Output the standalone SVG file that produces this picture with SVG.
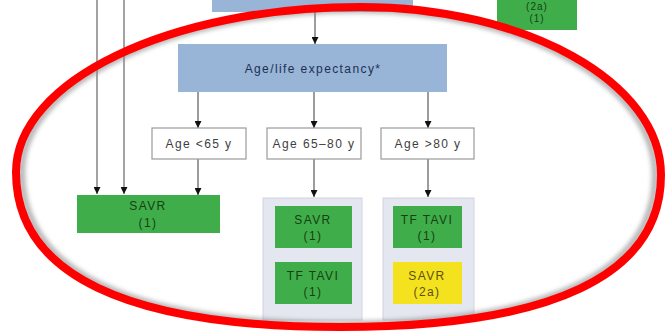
<svg xmlns="http://www.w3.org/2000/svg" width="666" height="331" viewBox="0 0 666 331">
  <defs>
    <style>
      .t { font-family: "Liberation Sans", Arial, sans-serif; font-size: 12px; letter-spacing: 1.4px; text-anchor: middle; }
      .blue { fill: #98b4d6; }
      .bluetxt { fill: #1c3152; }
      .age { fill: #ffffff; stroke: #9a9a9a; stroke-width: 1.2; }
      .agetxt { fill: #3e3e3e; }
      .green { fill: #3fae4a; }
      .greentxt { fill: #173f12; }
      .yellow { fill: #f4e21e; }
      .yellowtxt { fill: #5e4f10; }
      .panel { fill: #e4e7ef; stroke: #d0d4de; stroke-width: 1; }
      .arrow { stroke: #3a3a3a; stroke-width: 1; fill: none; marker-end: url(#head); }
      .feed { stroke: #8c8c8c; stroke-width: 1.6; fill: none; marker-end: url(#head); }
    </style>
    <marker id="head" viewBox="0 0 10 10" refX="10" refY="5" markerUnits="userSpaceOnUse" markerWidth="7" markerHeight="7" orient="auto">
      <path d="M0,0 L10,5 L0,10 z" fill="#111"/>
    </marker>
    <filter id="soft" x="-10%" y="-10%" width="120%" height="120%">
      <feGaussianBlur stdDeviation="2.2"/>
    </filter>
  </defs>

  <rect width="666" height="331" fill="#ffffff"/>

  <!-- connectors -->
  <g id="connectors">
    <line class="feed" x1="97" y1="0" x2="97" y2="194"/>
    <line class="feed" x1="124" y1="0" x2="124" y2="194"/>
    <line class="arrow" x1="315" y1="12" x2="315" y2="44"/>
    <line class="arrow" x1="198" y1="92" x2="198" y2="128"/>
    <line class="arrow" x1="314" y1="92" x2="314" y2="128"/>
    <line class="arrow" x1="428" y1="92" x2="428" y2="128"/>
    <line class="arrow" x1="198" y1="159" x2="198" y2="195"/>
    <line class="arrow" x1="314" y1="159" x2="314" y2="197"/>
    <line class="arrow" x1="428" y1="159" x2="428" y2="197"/>
  </g>

  <g id="top-decision">
    <rect class="blue" x="212" y="-4" width="201" height="16"/>
  </g>

  <g id="top-right-option">
    <rect class="green" x="497" y="-6" width="80" height="36"/>
    <text class="t greentxt" x="537" y="10" style="font-size:10px;letter-spacing:1px">(2a)</text>
    <text class="t greentxt" x="537" y="22" style="font-size:10px;letter-spacing:1px">(1)</text>
  </g>

  <g id="age-life">
    <rect class="blue" x="178" y="44" width="269" height="48"/>
    <text class="t bluetxt" x="313" y="73">Age/life expectancy*</text>
  </g>

  <g id="age-under-65">
    <rect class="age" x="152" y="128" width="94" height="31"/>
    <text class="t agetxt" x="199" y="148">Age &lt;65 y</text>
  </g>
  <g id="age-65-80">
    <rect class="age" x="267" y="128" width="94" height="31"/>
    <text class="t agetxt" x="314" y="148">Age 65–80 y</text>
  </g>
  <g id="age-over-80">
    <rect class="age" x="381" y="128" width="93" height="31"/>
    <text class="t agetxt" x="428" y="148">Age &gt;80 y</text>
  </g>

  <g id="savr-young">
    <rect class="green" x="77" y="195" width="143" height="38"/>
    <text class="t greentxt" x="148" y="210">SAVR</text>
    <text class="t greentxt" x="148" y="227">(1)</text>
  </g>

  <g id="options-65-80">
    <rect class="panel" x="263" y="198" width="99" height="122"/>
    <g id="savr-mid">
      <rect class="green" x="275" y="206" width="77" height="42"/>
      <text class="t greentxt" x="313" y="224">SAVR</text>
      <text class="t greentxt" x="313" y="240">(1)</text>
    </g>
    <g id="tavi-mid">
      <rect class="green" x="275" y="262" width="77" height="42"/>
      <text class="t greentxt" x="313" y="280">TF TAVI</text>
      <text class="t greentxt" x="313" y="296">(1)</text>
    </g>
  </g>

  <g id="options-over-80">
    <rect class="panel" x="383" y="198" width="91" height="122"/>
    <g id="tavi-old">
      <rect class="green" x="393" y="206" width="69" height="42"/>
      <text class="t greentxt" x="427" y="224">TF TAVI</text>
      <text class="t greentxt" x="427" y="240">(1)</text>
    </g>
    <g id="savr-old">
      <rect class="yellow" x="393" y="262" width="69" height="42"/>
      <text class="t yellowtxt" x="427" y="280">SAVR</text>
      <text class="t yellowtxt" x="427" y="296">(2a)</text>
    </g>
  </g>

  <!-- red highlight loop with a soft inner shadow -->
  <g id="highlight">
    <path transform="translate(338 168) scale(0.982) translate(-338 -168)" d="M16,172 C16,80.9 170,7 360,7 C526.2,7 661,82.2 661,175 C661,275.3 551.9,327 340,327 C126.2,327 16,274.3 16,172 Z" fill="none" stroke="#8a8a8a" stroke-opacity="0.6" stroke-width="7" filter="url(#soft)"/>
    <path d="M16,172 C16,80.9 170,7 360,7 C526.2,7 661,82.2 661,175 C661,275.3 551.9,327 340,327 C126.2,327 16,274.3 16,172 Z" fill="none" stroke="#ff0000" stroke-width="8"/>
  </g>
</svg>
